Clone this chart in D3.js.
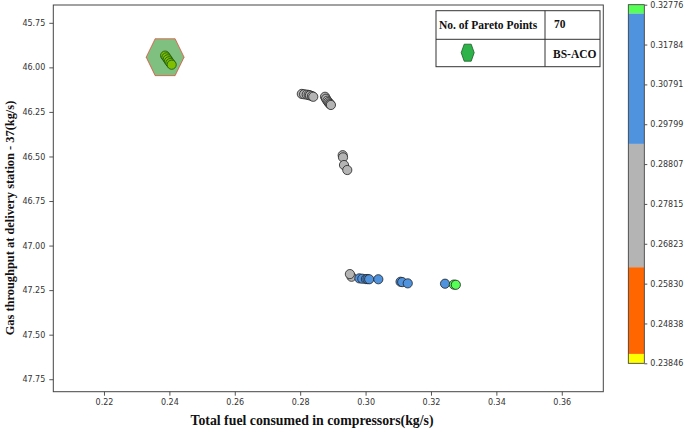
<!DOCTYPE html>
<html>
<head>
<meta charset="utf-8">
<script src="https://cdn.jsdelivr.net/npm/d3@7"></script>
<style>
body { margin: 0; background: #fff; }
svg text { font-family: "DejaVu Sans", sans-serif; }
.ttl { font-family: "Liberation Serif", "Times New Roman", serif !important; font-weight: bold; fill: #111; }
</style>
</head>
<body>
<div id="chart"></div>
<script>
// Pareto points: total fuel (x) vs gas throughput (y)
var fuel = [0.2387, 0.2391, 0.2395, 0.2399, 0.2403, 0.2407,
  0.2805, 0.2812, 0.2820, 0.2826, 0.2830, 0.2836, 0.2840,
  0.2876, 0.2879, 0.2883, 0.2886, 0.2889, 0.2892, 0.2894,
  0.2930, 0.2931, 0.2934, 0.2944,
  0.2957, 0.2952, 0.2981, 0.2990, 0.3001, 0.3006, 0.3011, 0.3039,
  0.3107, 0.3112, 0.3129, 0.3243, 0.3270, 0.3276];
var throughput = [45.934, 45.944, 45.955, 45.966, 45.976, 45.985,
  46.149, 46.151, 46.153, 46.155, 46.157, 46.161, 46.165,
  46.165, 46.176, 46.187, 46.195, 46.202, 46.207, 46.211,
  46.493, 46.505, 46.548, 46.576,
  47.175, 47.160, 47.184, 47.186, 47.188, 47.188, 47.189, 47.189,
  47.203, 47.205, 47.212, 47.214, 47.219, 47.220];
// colour-bar value shown by each point
var colourVal = [0.239, 0.239, 0.239, 0.239, 0.239, 0.239,
  0.28, 0.28, 0.28, 0.28, 0.28, 0.28, 0.28,
  0.28, 0.28, 0.28, 0.28, 0.28, 0.28, 0.28,
  0.28, 0.28, 0.28, 0.28,
  0.28, 0.28, 0.31, 0.31, 0.31, 0.31, 0.31, 0.31,
  0.31, 0.31, 0.31, 0.31, 0.327, 0.3276];

var xTicks = [0.22, 0.24, 0.26, 0.28, 0.30, 0.32, 0.34, 0.36];
var yTicks = [45.75, 46.00, 46.25, 46.50, 46.75, 47.00, 47.25, 47.50, 47.75];
var cbTicks = [0.23846, 0.24838, 0.25830, 0.26823, 0.27815, 0.28807, 0.29799, 0.30791, 0.31784, 0.32776];
// discrete colour bands of the colour bar
var bandEdges = [0.2408, 0.2624, 0.2931, 0.3256];
var bandColors = ["#ffff00", "#ff6600", "#b4b4b4", "#4f92de", "#55ff55"];
var legendCount = "70", legendName = "BS-ACO";
var hexCenter = {x: 0.2387, y: 45.94};

var W = 685, H = 431;
var svg = d3.select("#chart").append("svg").attr("width", W).attr("height", H);

var x = d3.scaleLinear().domain([0.2045, 0.3727]).range([53.3, 603.3]);
var y = d3.scaleLinear().domain([45.65, 47.82]).range([5, 391.7]);
var color = d3.scaleThreshold().domain(bandEdges).range(bandColors);

// axes
var gx = svg.append("g").attr("transform", "translate(0,391.7)")
  .call(d3.axisBottom(x).tickValues(xTicks).tickFormat(d3.format(".2f")).tickSize(4).tickPadding(4));
var gy = svg.append("g").attr("transform", "translate(53.3,0)")
  .call(d3.axisLeft(y).tickValues(yTicks).tickFormat(d3.format(".2f")).tickSize(4).tickPadding(4));
[gx, gy].forEach(function(g) {
  g.select(".domain").remove();
  g.selectAll("line").attr("stroke", "#555");
  g.selectAll("text").attr("fill", "#333").style("font-size", "8px");
});

// frame
svg.append("rect").attr("x", 53.3).attr("y", 5).attr("width", 550).attr("height", 386.7)
  .attr("fill", "none").attr("stroke", "#444").attr("stroke-width", 1);

// points
svg.append("g").selectAll("circle")
  .data(fuel)
  .enter()
  .append("circle")
  .attr("cx", function(d) { return x(d); })
  .attr("cy", function(d, i) { return y(throughput[i]); })
  .attr("r", 4.6)
  .attr("fill", function(d, i) { return color(colourVal[i]); })
  .attr("stroke", "#222")
  .attr("stroke-opacity", 0.8)
  .attr("stroke-width", 1);

// highlight hexagon over the BS-ACO knee
var hx = x(hexCenter.x), hy = y(hexCenter.y) + 0.5;
var hex = [[-19, 0], [-10, -18.5], [10, -18.5], [19, 0], [10, 18.5], [-10, 18.5]];
svg.append("polygon")
  .attr("points", hex.map(function(p) { return (hx + p[0]) + "," + (hy + p[1]); }).join(" "))
  .attr("fill", "green").attr("fill-opacity", 0.5)
  .attr("stroke", "red").attr("stroke-opacity", 0.5).attr("stroke-width", 1);

// legend table
var lg = svg.append("g");
lg.append("rect").attr("x", 436).attr("y", 10.7).attr("width", 164).attr("height", 56)
  .attr("fill", "#fff").attr("stroke", "#333");
lg.append("line").attr("x1", 436).attr("x2", 600).attr("y1", 39.3).attr("y2", 39.3).attr("stroke", "#333");
lg.append("line").attr("x1", 545).attr("x2", 545).attr("y1", 10.7).attr("y2", 66.7).attr("stroke", "#333");
lg.append("text").attr("class", "ttl").attr("x", 439).attr("y", 29).style("font-size", "11.5px").text("No. of Pareto Points");
lg.append("text").attr("class", "ttl").attr("x", 554).attr("y", 28).style("font-size", "11.5px").text(legendCount);
lg.append("text").attr("class", "ttl").attr("x", 553).attr("y", 58).style("font-size", "11.5px").text(legendName);
var lh = [[-6.5, 0], [-3.5, -8.5], [3.5, -8.5], [6.5, 0], [3.5, 8.5], [-3.5, 8.5]];
lg.append("polygon")
  .attr("points", lh.map(function(p) { return (467.7 + p[0]) + "," + (52.7 + p[1]); }).join(" "))
  .attr("fill", "#2db34a").attr("stroke", "#1a5a26").attr("stroke-width", 0.8);

// colour bar
var cb = d3.scaleLinear().domain([cbTicks[0], cbTicks[cbTicks.length - 1]]).range([363.3, 4.7]);
var edges = [cbTicks[0]].concat(bandEdges).concat([cbTicks[cbTicks.length - 1]]);
svg.append("g").selectAll("rect")
  .data(bandColors)
  .enter()
  .append("rect")
  .attr("x", 628.3).attr("width", 16)
  .attr("y", function(d, i) { return cb(edges[i + 1]); })
  .attr("height", function(d, i) { return cb(edges[i]) - cb(edges[i + 1]); })
  .attr("fill", function(d) { return d; });
svg.append("rect").attr("x", 628.3).attr("y", 4.7).attr("width", 16).attr("height", 358.6)
  .attr("fill", "none").attr("stroke", "#333").attr("stroke-width", 0.8);
var gc = svg.append("g").attr("transform", "translate(644.3,0)")
  .call(d3.axisRight(cb).tickValues(cbTicks).tickFormat(d3.format(".5f")).tickSize(3).tickPadding(3));
gc.select(".domain").remove();
gc.selectAll("line").attr("stroke", "#555");
gc.selectAll("text").attr("fill", "#333").style("font-size", "8px");

// axis titles
svg.append("text").attr("class", "ttl").attr("text-anchor", "middle")
  .attr("x", 312).attr("y", 425).style("font-size", "13.8px")
  .text("Total fuel consumed in compressors(kg/s)");
svg.append("text").attr("class", "ttl").attr("text-anchor", "middle")
  .attr("transform", "translate(13.5,218) rotate(-90)").style("font-size", "12.4px")
  .text("Gas throughput at delivery station - 37(kg/s)");
</script>
</body>
</html>
